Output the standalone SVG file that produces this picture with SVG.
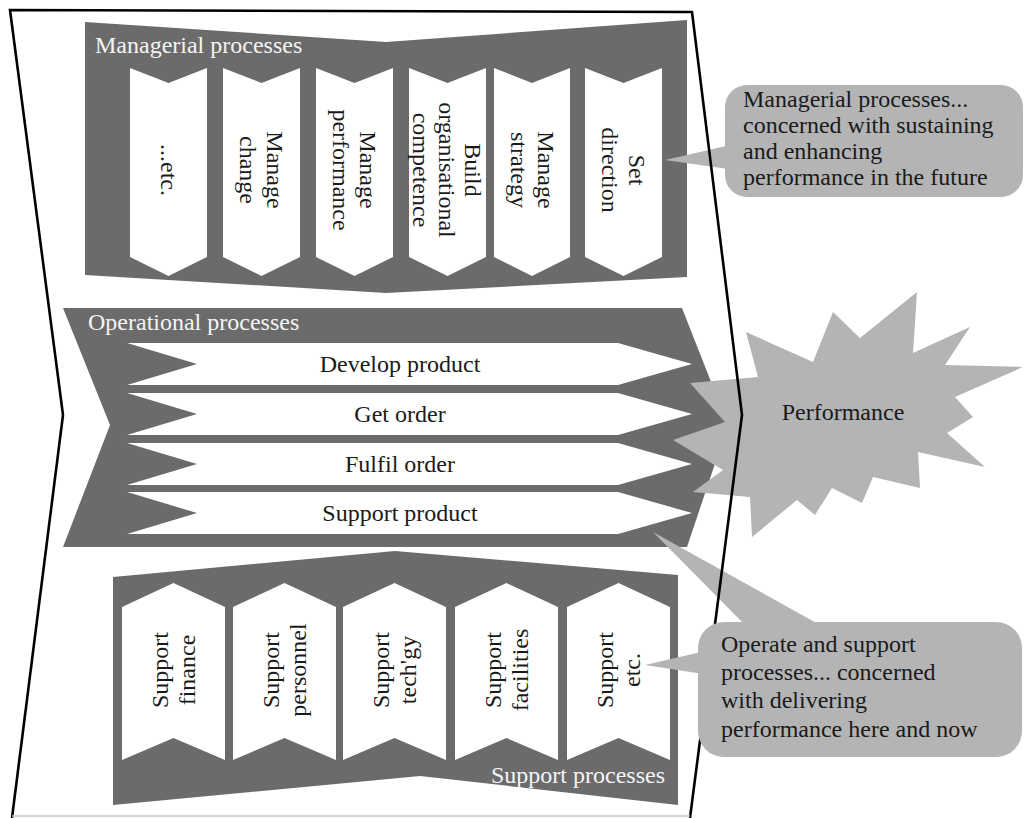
<svg xmlns="http://www.w3.org/2000/svg" width="1025" height="818" viewBox="0 0 1025 818">
  <style>
    .band { fill: #6b6b6b; }
    .card { fill: #ffffff; }
    .bubble { fill: #b4b4b4; }
    .lbl { font-family: "Liberation Serif", "Times New Roman", serif; font-size: 24px; fill: #1a1a1a; }
    .hdr { font-family: "Liberation Serif", "Times New Roman", serif; font-size: 24px; fill: #f4f4f4; }
    .mid { text-anchor: middle; }
    .frame { fill: none; stroke: #000; stroke-width: 2.6; stroke-linejoin: miter; }
  </style>
  <rect width="1025" height="818" fill="#ffffff"/>

  <!-- Managerial processes band with downward chevrons -->
  <g id="managerial">
    <polygon class="band" points="85,22 386,42 687,20 687,277 386,293 85,275"/>
    <text class="hdr" x="95" y="53">Managerial processes</text>
    <g id="m-etc">
      <polygon class="card" points="130,68 168.5,83 207,68 207,257 168.5,276 130,257"/>
      <text class="lbl mid" transform="translate(160.5,170) rotate(90)">...etc.</text>
    </g>
    <g id="m-change">
      <polygon class="card" points="223,68 261.5,83 300,68 300,257 261.5,276 223,257"/>
      <text class="lbl mid" transform="translate(267,170) rotate(90)">Manage</text>
      <text class="lbl mid" transform="translate(240,170) rotate(90)">change</text>
    </g>
    <g id="m-performance">
      <polygon class="card" points="316,68 354.5,83 393,68 393,257 354.5,276 316,257"/>
      <text class="lbl mid" transform="translate(360,170) rotate(90)">Manage</text>
      <text class="lbl mid" transform="translate(333,170) rotate(90)">performance</text>
    </g>
    <g id="m-competence">
      <polygon class="card" points="409,68 447.5,83 486,68 486,257 447.5,276 409,257"/>
      <text class="lbl mid" transform="translate(465,170) rotate(90)">Build</text>
      <text class="lbl mid" transform="translate(439,170) rotate(90)">organisational</text>
      <text class="lbl mid" transform="translate(413,170) rotate(90)">competence</text>
    </g>
    <g id="m-strategy">
      <polygon class="card" points="494,68 532,83 570,68 570,257 532,276 494,257"/>
      <text class="lbl mid" transform="translate(537.5,170) rotate(90)">Manage</text>
      <text class="lbl mid" transform="translate(510.5,170) rotate(90)">strategy</text>
    </g>
    <g id="m-direction">
      <polygon class="card" points="585,68 623.5,83 662,68 662,257 623.5,276 585,257"/>
      <text class="lbl mid" transform="translate(629,170) rotate(90)">Set</text>
      <text class="lbl mid" transform="translate(602,170) rotate(90)">direction</text>
    </g>
  </g>

  <!-- Operational processes band with rightward arrows -->
  <g id="operational">
    <polygon class="band" points="63,308 682,308 728,425 687,547 63,547 110,425"/>
    <text class="hdr" x="88" y="330">Operational processes</text>
    <g id="o-develop">
      <polygon class="card" points="127,343 618,343 692,364 618,385 127,385 197,364"/>
      <text class="lbl mid" x="400" y="372">Develop product</text>
    </g>
    <g id="o-get">
      <polygon class="card" points="127,393 618,393 692,414 618,435 127,435 197,414"/>
      <text class="lbl mid" x="400" y="422">Get order</text>
    </g>
    <g id="o-fulfil">
      <polygon class="card" points="127,443 618,443 692,464 618,485 127,485 197,464"/>
      <text class="lbl mid" x="400" y="472">Fulfil order</text>
    </g>
    <g id="o-support">
      <polygon class="card" points="127,492 618,492 692,513 618,534 127,534 197,513"/>
      <text class="lbl mid" x="400" y="521">Support product</text>
    </g>
  </g>

  <!-- Support processes band with upward chevrons -->
  <g id="support">
    <polygon class="band" points="113,577 395,551 678,575 678,805 420,776 113,805"/>
    <text class="hdr" x="665" y="783" text-anchor="end">Support processes</text>
    <g id="s-finance">
      <polygon class="card" points="122,607 173.5,583 225,607 225,760 173.5,738 122,760"/>
      <text class="lbl mid" transform="translate(168,670) rotate(-90)">Support</text>
      <text class="lbl mid" transform="translate(195,670) rotate(-90)">finance</text>
    </g>
    <g id="s-personnel">
      <polygon class="card" points="233,607 284.5,583 336,607 336,760 284.5,738 233,760"/>
      <text class="lbl mid" transform="translate(279,670) rotate(-90)">Support</text>
      <text class="lbl mid" transform="translate(306,670) rotate(-90)">personnel</text>
    </g>
    <g id="s-techgy">
      <polygon class="card" points="343,607 394.5,583 446,607 446,760 394.5,738 343,760"/>
      <text class="lbl mid" transform="translate(389,670) rotate(-90)">Support</text>
      <text class="lbl mid" transform="translate(416,670) rotate(-90)">tech'gy</text>
    </g>
    <g id="s-facilities">
      <polygon class="card" points="455,607 506.5,583 558,607 558,760 506.5,738 455,760"/>
      <text class="lbl mid" transform="translate(501,670) rotate(-90)">Support</text>
      <text class="lbl mid" transform="translate(528,670) rotate(-90)">facilities</text>
    </g>
    <g id="s-etc">
      <polygon class="card" points="567,607 618.5,583 670,607 670,760 618.5,738 567,760"/>
      <text class="lbl mid" transform="translate(613,670) rotate(-90)">Support</text>
      <text class="lbl mid" transform="translate(640,670) rotate(-90)">etc.</text>
    </g>
  </g>

  <!-- Performance burst -->
  <g id="performance">
    <polygon class="bubble" points="746,332 813,362 833,312 860,338 917,292 913,353 970,327 945,365 1023,367 955,397 973,417 947,433 985,467 918,452 920,488 873,477 862,503 832,488 815,515 797,500 752,537 750,497 693,492 723,470 673,440 725,422 690,383 758,377"/>
    <text class="lbl mid" x="843" y="420">Performance</text>
  </g>

  <!-- Managerial note -->
  <g id="note-managerial">
    <polygon class="bubble" points="665,160 735,144 735,170"/>
    <rect class="bubble" x="725" y="85" width="298" height="112" rx="22"/>
    <text class="lbl" x="743" y="107">Managerial processes...</text>
    <text class="lbl" x="743" y="133">concerned with sustaining</text>
    <text class="lbl" x="743" y="159">and enhancing</text>
    <text class="lbl" x="743" y="185">performance in the future</text>
  </g>

  <!-- Operate/support note pointers -->
  <g id="note-operate-tails">
    <polygon class="bubble" points="653,532 820,625 745,625"/>
    <polygon class="bubble" points="645,665 710,650 710,675"/>
  </g>

  <!-- Enterprise boundary -->
  <g id="connectors">
    <polyline class="frame" points="63,415 10,10 692,12 742,415 690,818"/>
    <polyline class="frame" points="63,415 12,818"/>
    <line x1="12" y1="816" x2="690" y2="816" stroke="#c4c4c4" stroke-width="1.5"/>
  </g>

  <!-- Operate/support note body -->
  <g id="note-operate">
    <rect class="bubble" x="698" y="622" width="324" height="135" rx="26"/>
    <text class="lbl" x="721" y="652">Operate and support</text>
    <text class="lbl" x="721" y="680">processes... concerned</text>
    <text class="lbl" x="721" y="708">with delivering</text>
    <text class="lbl" x="721" y="737">performance here and now</text>
  </g>
</svg>
